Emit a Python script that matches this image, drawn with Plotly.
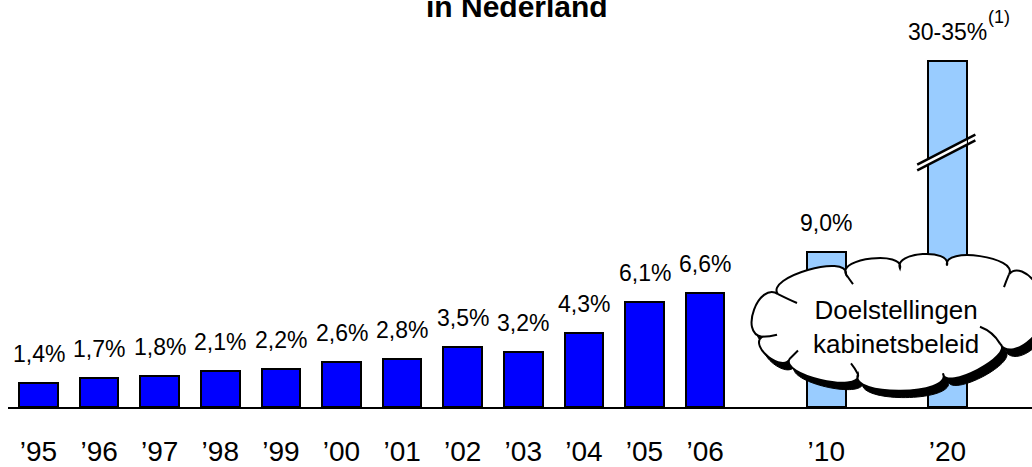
import numpy as np
import plotly.graph_objects as go

# ---- data ----
years = ["\u201995", "\u201996", "\u201997", "\u201998", "\u201999", "\u201900", "\u201901",
         "\u201902", "\u201903", "\u201904", "\u201905", "\u201906", "\u201910", "\u201920"]
positions = [0, 1, 2, 3, 4, 5, 6, 7, 8, 9, 10, 11, 13, 15]
# displayed bar heights (the '20 bar is drawn on a broken axis)
values = [1.4, 1.7, 1.8, 2.1, 2.2, 2.6, 2.8, 3.5, 3.2, 4.3, 6.1, 6.6, 9.0, 20.1]
labels = ["1,4%", "1,7%", "1,8%", "2,1%", "2,2%", "2,6%", "2,8%", "3,5%", "3,2%",
          "4,3%", "6,1%", "6,6%", "9,0%", "30-35%"]
kind = ["real"] * 12 + ["target"] * 2

DARK = "#0000FF"
LIGHT = "#99CCFF"
colors = [DARK if k == "real" else LIGHT for k in kind]
FONT = "Liberation Sans, Arial, sans-serif"

W, H = 1032, 467
ML, MR, MT, MB = 8, 0, 0, 56
PW, PH = W - ML - MR, H - MT - MB
X0_PX, DX_PX = 38.5, 60.6       # pixel of first bar centre, spacing
PX_PER_UNIT = 17.4              # pixels per % on y axis

xr = [(ML - X0_PX) / DX_PX, (W - MR - X0_PX) / DX_PX]
yr = [0, PH / PX_PER_UNIT]


def pp(px, py):
    """pixel -> paper coordinates"""
    return (px - ML) / PW, (H - MB - py) / PH


fig = go.Figure()
fig.add_trace(go.Bar(
    x=positions, y=values, width=0.64,
    marker=dict(color=colors, line=dict(color="black", width=2)),
    hoverinfo="skip", showlegend=False,
))

# value labels
for xp, v, lab in zip(positions, values, labels):
    fig.add_annotation(x=xp, y=v, text=lab, showarrow=False, xref="x", yref="y",
                       xanchor="center", yanchor="middle", yshift=29,
                       font=dict(family=FONT, size=23, color="black"))
fig.add_annotation(x=positions[-1], y=values[-1], text="(1)", showarrow=False,
                   xref="x", yref="y", xanchor="left", yanchor="middle",
                   xshift=38, yshift=44, font=dict(family=FONT, size=18, color="black"))

# axis break on the '20 bar
bx, by = positions[-1] - 0.02, 14.94
hx = 0.34
half = 0.48
slope = 1.81
gap = 0.34


def yl(x, off):
    return by + off + slope * (x - bx)


fig.add_shape(type="path", xref="x", yref="y",
              path=(f"M {bx-hx},{yl(bx-hx, 0)} L {bx+hx},{yl(bx+hx, 0)} "
                    f"L {bx+hx},{yl(bx+hx, -gap)} L {bx-hx},{yl(bx-hx, -gap)} Z"),
              fillcolor="white", line=dict(width=0))
for off in (0, -gap):
    fig.add_shape(type="line", xref="x", yref="y",
                  x0=bx - half, y0=yl(bx - half, off), x1=bx + half, y1=yl(bx + half, off),
                  line=dict(color="black", width=2.5))

# cloud callout: cusp points (pixels, clockwise) and bump bulge sizes
cusps = [(778, 297), (846, 277), (900, 271), (947, 268), (1009, 277), (1036, 313),
         (1000, 347), (943, 377), (858, 378), (790, 362), (762, 340)]
bulge = [15, 13, 13, 14, 16, 18, 13, 17, 14, 12, 17]


def cloud_path(dx=0.0, dy=0.0):
    segs = []
    p0 = pp(cusps[0][0] + dx, cusps[0][1] + dy)
    segs.append(f"M {p0[0]:.5f},{p0[1]:.5f}")
    n = len(cusps)
    for i in range(n):
        x1, y1 = cusps[i]
        x2, y2 = cusps[(i + 1) % n]
        d = np.array([x2 - x1, y2 - y1], dtype=float)
        L = np.linalg.norm(d)
        u = d / L
        nrm = np.array([u[1], -u[0]])
        k = bulge[i] / 0.75
        c1 = np.array([x1, y1]) + nrm * k - u * 0.12 * L
        c2 = np.array([x2, y2]) + nrm * k + u * 0.12 * L
        c1 = pp(c1[0] + dx, c1[1] + dy)
        c2 = pp(c2[0] + dx, c2[1] + dy)
        e = pp(x2 + dx, y2 + dy)
        segs.append(f"C {c1[0]:.5f},{c1[1]:.5f} {c2[0]:.5f},{c2[1]:.5f} {e[0]:.5f},{e[1]:.5f}")
    segs.append("Z")
    return " ".join(segs)


fig.add_shape(type="path", xref="paper", yref="paper", path=cloud_path(5, 7),
              fillcolor="black", line=dict(color="black", width=1))
fig.add_shape(type="path", xref="paper", yref="paper", path=cloud_path(),
              fillcolor="white", line=dict(color="black", width=2))

# small inner arcs typical of the cloud shape
inner = [((778, 297), (790, 303), (797, 306)),
         ((846, 277), (850, 283), (853, 287)),
         ((1009, 277), (1006, 284), (1004, 290)),
         ((1000, 347), (993, 335), (980, 330)),
         ((858, 378), (855, 372), (851, 367)),
         ((790, 362), (794, 358), (798, 354)),
         ((762, 340), (770, 340), (777, 338))]
for (a, b, c) in inner:
    pa, pb, pc = pp(*a), pp(*b), pp(*c)
    fig.add_shape(type="path", xref="paper", yref="paper",
                  path=f"M {pa[0]:.5f},{pa[1]:.5f} Q {pb[0]:.5f},{pb[1]:.5f} {pc[0]:.5f},{pc[1]:.5f}",
                  line=dict(color="black", width=2))

tx, ty = pp(896, 330)
fig.add_annotation(x=tx, y=ty, xref="paper", yref="paper", showarrow=False,
                   xanchor="center", yanchor="middle",
                   text="Doelstellingen<br>kabinetsbeleid",
                   font=dict(family=FONT, size=26, color="black"))

# title (first line lies above the visible area)
ttx, tty = pp(517, 7)
fig.add_annotation(x=ttx, y=tty, xref="paper", yref="paper", showarrow=False,
                   text="<b>in Nederland</b>", xanchor="center", yanchor="middle",
                   font=dict(family=FONT, size=30, color="black"))

fig.update_layout(
    width=W, height=H,
    margin=dict(l=ML, r=MR, t=MT, b=MB),
    paper_bgcolor="white", plot_bgcolor="white",
    xaxis=dict(range=xr, tickvals=positions, ticktext=years, showgrid=False,
               zeroline=False, showline=True, linecolor="black", linewidth=2,
               ticks="", ticklabelstandoff=18,
               tickfont=dict(family=FONT, size=28, color="black")),
    yaxis=dict(range=yr, visible=False, showgrid=False, zeroline=False),
    bargap=0,
)

fig.write_html("out.html", config={"displayModeBar": False},
               post_script="document.body.style.margin='0px';")
